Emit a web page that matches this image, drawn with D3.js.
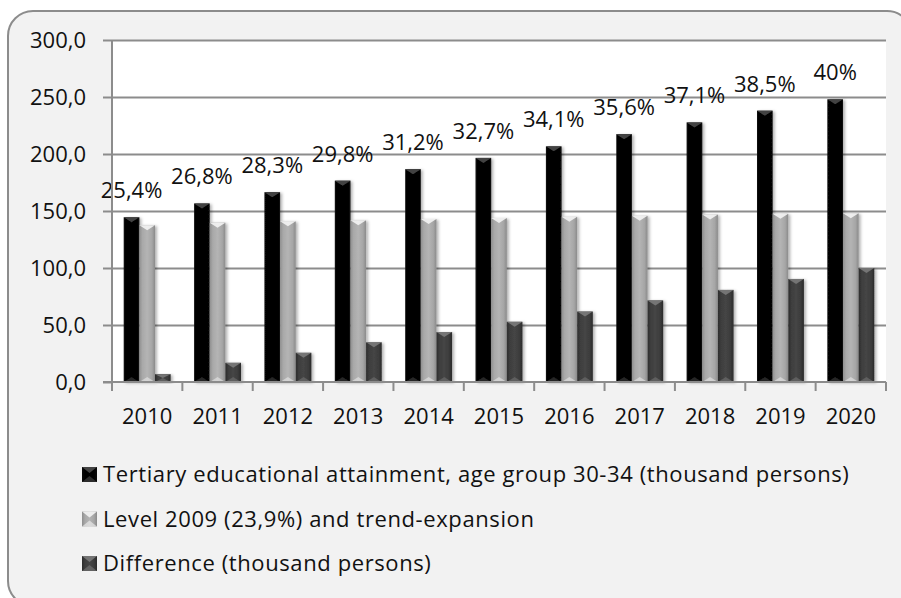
<!DOCTYPE html>
<html>
<head>
<meta charset="utf-8">
<script src="https://cdn.jsdelivr.net/npm/d3@7"></script>
<style>
  html, body { margin: 0; padding: 0; background: #ffffff; }
  svg { display: block; }
  text { font-family: "Open Sans", sans-serif; fill: #111; }
</style>
</head>
<body>
<svg id="chart" width="901" height="598"></svg>
<script>
// ---- data ----
const years = ["2010","2011","2012","2013","2014","2015","2016","2017","2018","2019","2020"];
const tertiary = [144.5, 156.6, 166.5, 176.6, 186.7, 196.6, 206.7, 217.4, 227.7, 238.0, 248.0];
const level2009 = [137.6, 139.8, 140.9, 141.8, 142.9, 143.8, 144.9, 145.8, 146.9, 147.6, 148.0];
const difference = [6.9, 16.8, 25.6, 34.8, 43.8, 52.8, 61.8, 71.6, 80.8, 90.4, 100.0];
const shareLabels = ["25,4%","26,8%","28,3%","29,8%","31,2%","32,7%","34,1%","35,6%","37,1%","38,5%","40%"];
const yTicks = [0, 50, 100, 150, 200, 250, 300];
const seriesNames = [
  "Tertiary educational attainment, age group 30-34 (thousand persons)",
  "Level 2009 (23,9%) and trend-expansion",
  "Difference (thousand persons)"
];

const series = [
  { key: "tertiary", values: tertiary },
  { key: "level", values: level2009 },
  { key: "diff", values: difference }
];

// ---- styles per series ----
const style = {
  tertiary: { stops: ["#0a0a0a", "#000000", "#000000", "#000000", "#0a0a0a"], cap: "#4a4a4a" },
  level:    { stops: ["#8f8f8f", "#a9a9a9", "#b4b4b4", "#a6a6a6", "#8a8a8a"], cap: "#f4f4f4" },
  diff:     { stops: ["#2c2c2c", "#3e3e3e", "#454545", "#3c3c3c", "#2a2a2a"], cap: "#7a7a7a" }
};
const fontSize = 22;

const svg = d3.select("#chart");
const defs = svg.append("defs");

Object.entries(style).forEach(([k, s]) => {
  const g = defs.append("linearGradient").attr("id", "grad-" + k)
    .attr("x1", "0%").attr("x2", "100%").attr("y1", "0%").attr("y2", "0%");
  [0, 20, 50, 80, 100].forEach((o, i) => {
    g.append("stop").attr("offset", o + "%").attr("stop-color", s.stops[i]);
  });
});

const shadow = defs.append("filter").attr("id", "shadow")
  .attr("x", "-30%").attr("y", "-10%").attr("width", "180%").attr("height", "130%");
shadow.append("feDropShadow").attr("dx", 2).attr("dy", 1)
  .attr("stdDeviation", 1.6).attr("flood-color", "#000").attr("flood-opacity", 0.3);

// ---- outer frame ----
svg.append("rect")
  .attr("x", 8).attr("y", 11).attr("width", 904).attr("height", 595)
  .attr("rx", 25).attr("ry", 25)
  .attr("fill", "#f2f2f2").attr("stroke", "#8c8c8c").attr("stroke-width", 2);

// ---- scales ----
const plot = { left: 112, right: 886, top: 40, bottom: 382 };
const x = d3.scaleBand().domain(years).range([plot.left, plot.right]).paddingInner(0).paddingOuter(0);
const xs = d3.scaleBand().domain(series.map(s => s.key)).range([0, x.bandwidth()])
  .paddingInner(0).paddingOuter(0.75);
const y = d3.scaleLinear().domain([0, 300]).range([plot.bottom, plot.top]);

// plot area
svg.append("rect")
  .attr("x", plot.left).attr("y", plot.top)
  .attr("width", plot.right - plot.left).attr("height", plot.bottom - plot.top)
  .attr("fill", "#ffffff");

// gridlines
const grid = svg.append("g").attr("transform", `translate(${plot.left},0)`)
  .call(d3.axisLeft(y).tickValues(yTicks.filter(v => v > 0)).tickSize(-(plot.right - plot.left)).tickFormat(""));
grid.select(".domain").remove();
grid.selectAll("line").attr("stroke", "#8c8c8c").attr("stroke-width", 2);

// ---- bars ----
const capH = 5;
const groups = svg.append("g").selectAll("g").data(years).join("g")
  .attr("transform", d => `translate(${x(d)},0)`);

series.forEach(s => {
  const w = xs.bandwidth();
  const bx = xs(s.key);
  const barG = groups.append("g").attr("filter", "url(#shadow)");
  barG.append("rect")
    .attr("x", bx).attr("width", w)
    .attr("y", (d, i) => y(s.values[i]))
    .attr("height", (d, i) => y(0) - y(s.values[i]))
    .attr("fill", `url(#grad-${s.key})`);
  // bevelled cap at top
  barG.append("path")
    .attr("d", (d, i) => {
      const t = y(s.values[i]);
      const h = Math.min(capH, (y(0) - t) / 2);
      return `M${bx},${t}L${bx + w},${t}L${bx + w / 2},${t + h}Z`;
    })
    .attr("fill", style[s.key].cap).attr("opacity", 0.9);
  // bevel at bottom
  barG.append("path")
    .attr("d", (d, i) => {
      const t = y(s.values[i]);
      const h = Math.min(capH, (y(0) - t) / 2);
      const b = y(0);
      return `M${bx},${b}L${bx + w},${b}L${bx + w / 2},${b - h}Z`;
    })
    .attr("fill", style[s.key].cap).attr("opacity", 0.5);
});

// percentage labels above the tertiary bars
groups.append("text")
  .attr("x", xs("tertiary") + xs.bandwidth() / 2)
  .attr("y", (d, i) => y(tertiary[i]) - 19)
  .attr("text-anchor", "middle")
  .attr("font-size", fontSize)
  .text((d, i) => shareLabels[i]);

// ---- axes ----
const fmt = v => d3.format(".1f")(v).replace(".", ",");
const yAxis = svg.append("g").attr("transform", `translate(${plot.left},0)`)
  .call(d3.axisLeft(y).tickValues(yTicks).tickSize(9).tickPadding(17).tickFormat(fmt));
yAxis.select(".domain").attr("stroke", "#8c8c8c").attr("stroke-width", 2).attr("d", `M0,${plot.top}V${plot.bottom}`);
yAxis.selectAll("line").attr("stroke", "#8c8c8c").attr("stroke-width", 2);
yAxis.selectAll("text").attr("font-size", fontSize).attr("font-family", "'Open Sans', sans-serif").attr("fill", "#111").attr("dy", "0.35em");

const xAxis = svg.append("g").attr("transform", `translate(0,${plot.bottom})`)
  .call(d3.axisBottom(x).tickSize(0).tickPadding(42).tickFormat(d => d));
xAxis.select(".domain").attr("stroke", "#8c8c8c").attr("stroke-width", 2).attr("d", `M${plot.left - 9},0H${plot.right}`);
xAxis.selectAll("text").attr("font-size", fontSize).attr("font-family", "'Open Sans', sans-serif").attr("fill", "#111").attr("dy", 0);

// category separators below the axis
svg.append("g").selectAll("line").data(years.concat(["end"])).join("line")
  .attr("x1", (d, i) => i < years.length ? x(d) : plot.right)
  .attr("x2", (d, i) => i < years.length ? x(d) : plot.right)
  .attr("y1", plot.bottom).attr("y2", plot.bottom + 9)
  .attr("stroke", "#8c8c8c").attr("stroke-width", 2);

// ---- legend ----
const legend = svg.append("g").selectAll("g").data(series).join("g")
  .attr("transform", (d, i) => `translate(82,${467 + i * 44.5})`);
legend.append("rect").attr("width", 15).attr("height", 15)
  .attr("fill", d => `url(#grad-${d.key})`);
legend.append("path").attr("d", "M0,0L15,0L7.5,6Z").attr("fill", d => style[d.key].cap).attr("opacity", 0.9);
legend.append("path").attr("d", "M0,15L15,15L7.5,9Z").attr("fill", d => style[d.key].cap).attr("opacity", 0.6);
legend.append("text").attr("x", 21).attr("y", 15)
  .attr("font-size", fontSize)
  .attr("letter-spacing", 0.6)
  .text((d, i) => seriesNames[i]);
</script>
</body>
</html>
